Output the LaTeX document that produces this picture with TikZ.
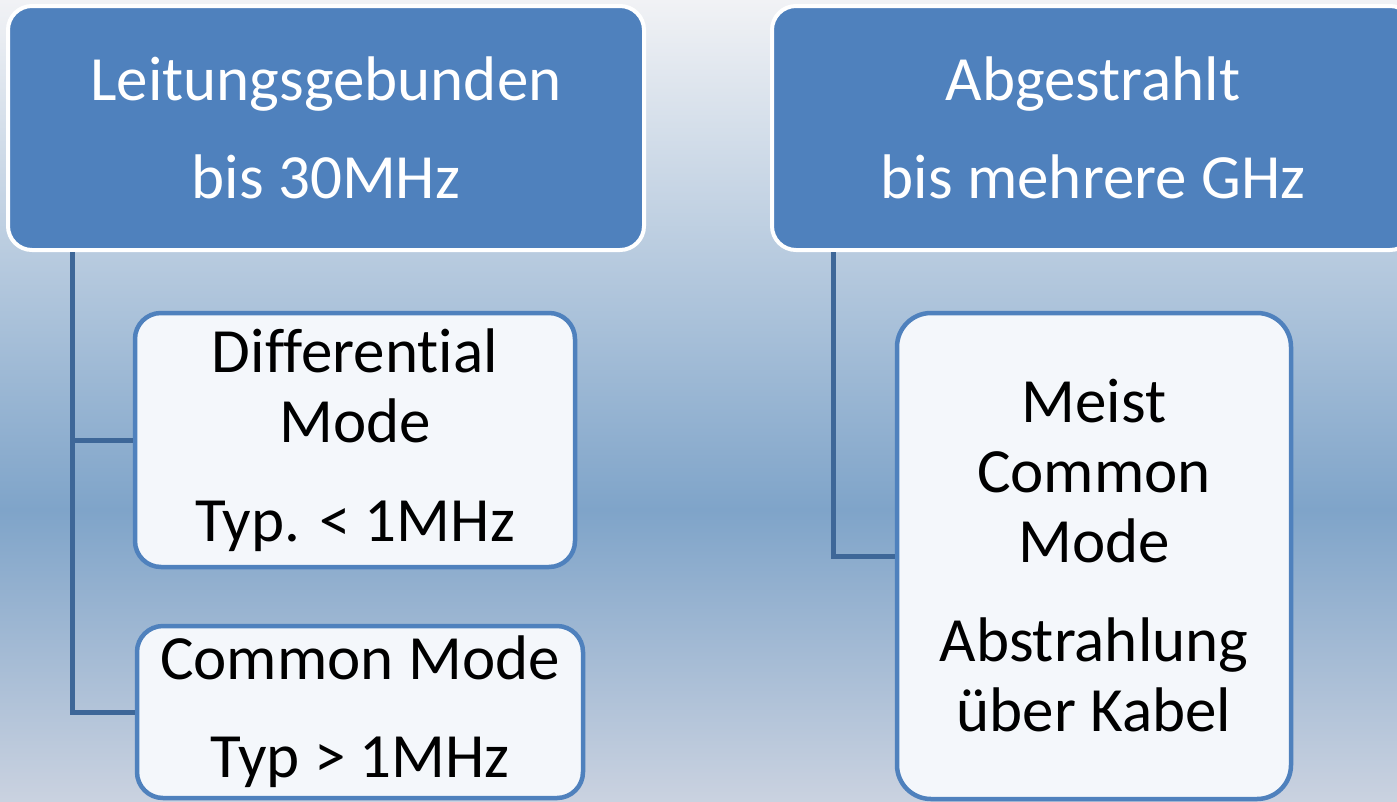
\documentclass[tikz,border=0pt]{standalone}
\usepackage{fontspec}
\setmainfont{Carlito}[Ligatures=CommonOff]
\usetikzlibrary{positioning}

\definecolor{accent}{HTML}{4F81BD}
\definecolor{paper}{HTML}{F4F7FB}
\definecolor{trunk}{HTML}{3E6798}
\definecolor{bgtop}{HTML}{F1F2F5}
\definecolor{bgmid}{HTML}{7FA4C9}
\definecolor{bgbot}{HTML}{CAD2E0}

\begin{document}
\begin{tikzpicture}[x=1pt, y=-1pt,
    head/.style={rectangle, rounded corners=24pt, draw=white, line width=4pt,
                 fill=accent, text=white, align=center, inner sep=0pt,
                 font=\fontsize{63}{70}\selectfont},
    sub/.style={rectangle, rounded corners=26pt, draw=accent, line width=4.5pt,
                fill=paper, text=black, align=center, inner sep=0pt,
                font=\fontsize{63}{70}\selectfont},
    conn/.style={draw=trunk, line width=5pt}
]
\useasboundingbox (0,0) rectangle (1397,801);

% Background
\shade[top color=bgtop, bottom color=bgmid] (0,0) rectangle (1397,510);
\shade[top color=bgmid, bottom color=bgbot] (0,510) rectangle (1397,801);

% Header boxes
\node[head, minimum width=636pt, minimum height=244pt] (lhead) at (326,128)
    {Leitungsgebunden\\[28pt]bis 30MHz};
\node[head, minimum width=642pt, minimum height=244pt] (rhead) at (1093,128)
    {Abgestrahlt\\[28pt]bis mehrere GHz};

% Sub boxes
\node[sub, minimum width=440pt, minimum height=254pt] (dm) at (355,440)
    {Differential\\Mode\\[29pt]Typ. < 1MHz};
\node[sub, minimum width=446pt, minimum height=172pt] (cm) at (360,712)
    {Common Mode\\[28pt]Typ > 1MHz};
\node[sub, minimum width=394pt, minimum height=486pt, rounded corners=34pt] (ms) at (1094,556)
    {Meist\\Common\\Mode\\[29pt]Abstrahlung\\über Kabel};

% Connectors
\coordinate (ltrunk) at (72,252);
\coordinate (rtrunk) at (833,252);
\draw[conn] (ltrunk) |- (dm.west);
\draw[conn] (ltrunk) |- (cm.west);
\draw[conn] (rtrunk) |- (ms.west);

\end{tikzpicture}
\end{document}
